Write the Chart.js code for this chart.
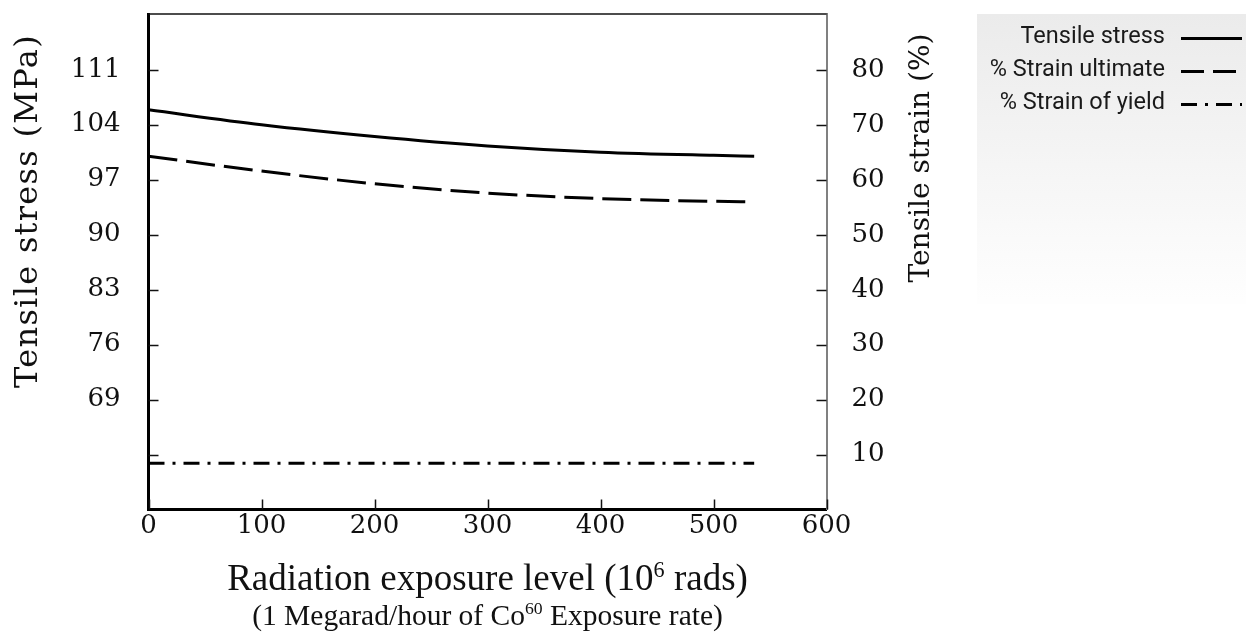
<!DOCTYPE html>
<html>
<head>
<meta charset="utf-8">
<script src="https://cdn.jsdelivr.net/npm/chart.js@4.4.1/dist/chart.umd.min.js"></script>
<style>
  html, body { margin: 0; padding: 0; background: #fff; }
  #wrap { width: 1246px; height: 644px; position: relative; }
</style>
</head>
<body>
<div id="wrap"><canvas id="radiationChart"></canvas></div>
<script>
// values
const exposure = [0, 100, 200, 300, 400, 500, 536];
const tensileStress = [105.9, 104.0, 102.5, 101.3, 100.5, 100.1, 100.0];
const strainUltimate = [64.3, 61.6, 59.3, 57.6, 56.6, 56.1, 56.0];
const strainYield = [8.4, 8.4, 8.4, 8.4, 8.4, 8.4, 8.4];

const seriesLabels = ['Tensile stress', '% Strain ultimate', '% Strain of yield'];
const xTicks = [0, 100, 200, 300, 400, 500, 600];
const stressTicks = [62, 69, 76, 83, 90, 97, 104, 111];
const stressTickLabels = ['', '69', '76', '83', '90', '97', '104', '111'];
const strainTicks = [10, 20, 30, 40, 50, 60, 70, 80];

const serif = "'DejaVu Serif', serif";
const bookSerif = "'Liberation Serif', serif";

function pairs(xs, ys) {
  return xs.map((x, i) => ({ x: x, y: ys[i] }));
}

// draws text with a raised small part, centred on cx
function drawRich(c, parts, cx, y, size) {
  let total = 0;
  parts.forEach(p => {
    c.font = (p.sup ? size * 0.6 : size) + 'px ' + bookSerif;
    p.w = c.measureText(p.t).width;
    total += p.w;
  });
  let x = cx - total / 2;
  parts.forEach(p => {
    c.font = (p.sup ? size * 0.6 : size) + 'px ' + bookSerif;
    c.fillText(p.t, x, p.sup ? y - size * 0.36 : y);
    x += p.w;
  });
}

function noPad(s) {
  s.paddingTop = 0;
  s.paddingBottom = 0;
  s.paddingLeft = 0;
  s.paddingRight = 0;
}

const decorations = {
  id: 'decorations',
  afterDraw(chart) {
    const c = chart.ctx;
    const area = chart.chartArea;
    const sx = chart.scales.x, sy = chart.scales.y, sy1 = chart.scales.y1;
    c.save();

    // top frame line
    c.strokeStyle = '#111';
    c.lineWidth = 1.5;
    c.beginPath();
    c.moveTo(area.left, area.top);
    c.lineTo(area.right, area.top);
    c.stroke();

    // inward tick marks
    c.beginPath();
    stressTicks.forEach(v => {
      const py = Math.round(sy.getPixelForValue(v)) + 0.5;
      c.moveTo(area.left, py);
      c.lineTo(area.left + 10, py);
    });
    strainTicks.forEach(v => {
      const py = Math.round(sy1.getPixelForValue(v)) + 0.5;
      c.moveTo(area.right - 10, py);
      c.lineTo(area.right, py);
    });
    xTicks.forEach(v => {
      const px = Math.round(sx.getPixelForValue(v)) + 0.5;
      c.moveTo(px, area.bottom);
      c.lineTo(px, area.bottom - 10);
    });
    c.stroke();

    // axis titles
    c.fillStyle = '#111';
    c.textAlign = 'center';
    c.textBaseline = 'middle';
    c.save();
    c.font = '32px ' + serif;
    c.letterSpacing = '1.3px';
    c.translate(29, 211);
    c.rotate(-Math.PI / 2);
    c.fillText('Tensile stress (MPa)', 0, 0);
    c.restore();
    c.save();
    c.font = '28px ' + serif;
    c.translate(922, 158);
    c.rotate(-Math.PI / 2);
    c.fillText('Tensile strain (%)', 0, 0);
    c.restore();

    c.textAlign = 'left';
    c.textBaseline = 'alphabetic';
    const cx = (area.left + area.right) / 2;
    drawRich(c, [{ t: 'Radiation exposure level (10' }, { t: '6', sup: true }, { t: ' rads)' }], cx, 590, 37);
    drawRich(c, [{ t: '(1 Megarad/hour of Co' }, { t: '60', sup: true }, { t: ' Exposure rate)' }], cx, 625, 29.5);

    // legend panel
    const g = c.createLinearGradient(0, 14, 0, 300);
    g.addColorStop(0, '#ebebeb');
    g.addColorStop(1, '#fefefe');
    c.fillStyle = g;
    c.fillRect(977, 14, 269, 290);

    chart.data.datasets.forEach((ds, i) => {
      const ly = 38.5 + i * 33;
      c.save();
      c.fillStyle = '#1a1a1a';
      c.font = '24px Roboto, sans-serif';
      c.textAlign = 'right';
      c.textBaseline = 'middle';
      c.translate(1165, ly - 2);
      c.scale(0.98, 1);
      c.fillText(ds.label, 0, 0);
      c.restore();

      c.strokeStyle = '#000';
      c.lineWidth = 3;
      c.setLineDash(i === 1 ? [23, 9] : ds.borderDash);
      c.beginPath();
      c.moveTo(1181, ly);
      c.lineTo(1242, ly);
      c.stroke();
      c.setLineDash([]);
    });

    c.restore();
  }
};

const ctx = document.getElementById('radiationChart');

new Chart(ctx, {
  type: 'line',
  data: {
    datasets: [{
      label: seriesLabels[0],
      data: pairs(exposure, tensileStress),
      yAxisID: 'y',
      borderColor: '#000',
      borderWidth: 3,
      borderDash: [],
      pointRadius: 0,
      cubicInterpolationMode: 'monotone'
    }, {
      label: seriesLabels[1],
      data: pairs(exposure, strainUltimate),
      yAxisID: 'y1',
      borderColor: '#000',
      borderWidth: 3,
      borderDash: [29, 9],
      pointRadius: 0,
      cubicInterpolationMode: 'monotone'
    }, {
      label: seriesLabels[2],
      data: pairs(exposure, strainYield),
      yAxisID: 'y1',
      borderColor: '#000',
      borderWidth: 3,
      borderDash: [16, 8, 3, 8],
      pointRadius: 0,
      cubicInterpolationMode: 'monotone'
    }]
  },
  options: {
    responsive: true,
    maintainAspectRatio: false,
    animation: false,
    layout: { padding: { top: 14, left: 0, right: 0, bottom: 0 } },
    plugins: {
      legend: { display: false },
      tooltip: { enabled: false }
    },
    scales: {
      x: {
        type: 'linear',
        position: 'bottom',
        min: 0,
        max: 600,
        afterBuildTicks: s => { s.ticks = xTicks.map(v => ({ value: v })); },
        afterFit: s => { s.height = 134.5; noPad(s); },
        grid: { drawOnChartArea: false, drawTicks: false },
        border: { color: '#000', width: 3 },
        ticks: {
          autoSkip: false,
          maxRotation: 0,
          padding: 1,
          color: '#111',
          font: { family: serif, size: 26 }
        }
      },
      y: {
        type: 'linear',
        position: 'left',
        min: 55,
        max: 118.1,
        afterBuildTicks: s => { s.ticks = stressTicks.map(v => ({ value: v })); },
        afterFit: s => { s.width = 148.5; noPad(s); },
        grid: { drawOnChartArea: false, drawTicks: false },
        border: { color: '#000', width: 3 },
        ticks: {
          autoSkip: false,
          padding: 28,
          color: '#111',
          font: { family: serif, size: 26 },
          callback: (v, i) => stressTickLabels[i]
        }
      },
      y1: {
        type: 'linear',
        position: 'right',
        min: 0,
        max: 90.2,
        afterBuildTicks: s => { s.ticks = strainTicks.map(v => ({ value: v })); },
        afterFit: s => { s.width = 419.5; noPad(s); },
        grid: { drawOnChartArea: false, drawTicks: false },
        border: { color: '#808080', width: 2 },
        ticks: {
          autoSkip: false,
          padding: 25,
          color: '#111',
          font: { family: serif, size: 26 }
        }
      }
    }
  },
  plugins: [decorations]
});
</script>
</body>
</html>
